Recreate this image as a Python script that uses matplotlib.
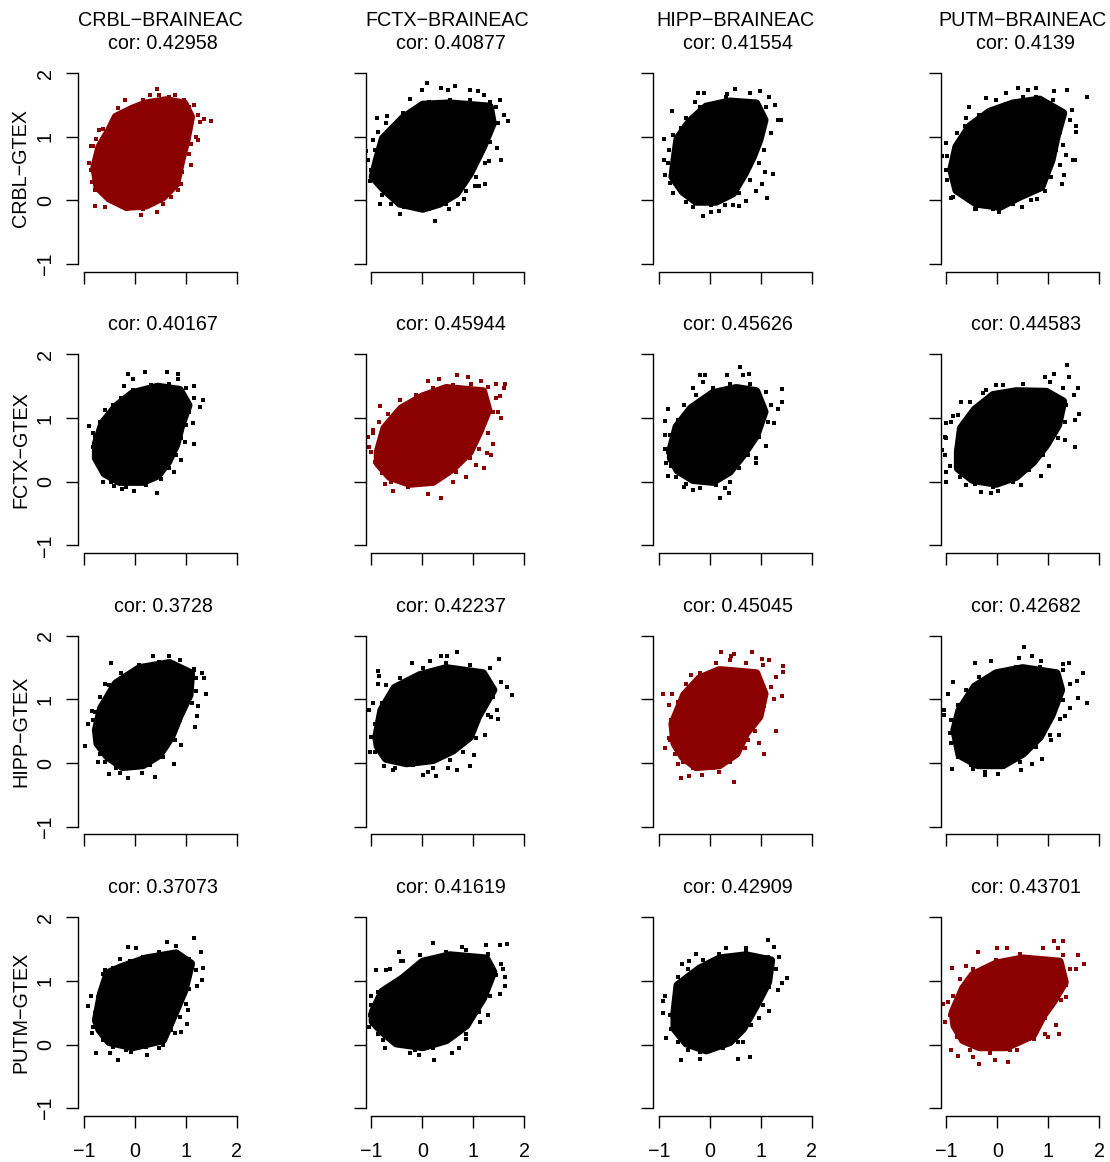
import matplotlib
matplotlib.use("Agg")
import matplotlib.pyplot as plt

plt.rcParams['font.family'] = ['Liberation Sans', 'DejaVu Sans']

# tissue names and correlations
tissues = ["CRBL", "FCTX", "HIPP", "PUTM"]
cors = [["0.42958", "0.40877", "0.41554", "0.4139"],
        ["0.40167", "0.45944", "0.45626", "0.44583"],
        ["0.3728", "0.42237", "0.45045", "0.42682"],
        ["0.37073", "0.41619", "0.42909", "0.43701"]]
ticks = [-1, 0, 1, 2]

# each panel: edge of the solid cloud, loose points around it, fringe points along the edge (all by eye)
edge_00 = [(-0.79,0.52),(-0.69,0.84),(-0.50,1.10),(-0.37,1.31),(-0.04,1.44),(0.22,1.52),(0.61,1.57),(0.97,1.52),(1.10,1.31),(1.01,0.94),(0.91,0.63),(0.81,0.26),(0.55,0.05),(0.22,-0.08),(-0.17,-0.10),(-0.50,0.03),(-0.73,0.21)]
out_00 = [(0.43,1.75),(-0.19,1.57),(-0.33,1.45),(-0.79,-0.09),(0.12,-0.23),(0.43,-0.19),(1.49,1.25),(1.35,1.27),(1.24,0.94),(1.10,0.56),(-0.89,0.59),(-0.85,0.86),(1.16,1.5),(0.78,1.65),(-0.59,-0.10),(0.92,0.44),(-0.71,1.10),(-0.63,1.12)]
fr_00 = [(-0.76,0.97),(-0.82,0.86),(-0.73,0.76),(-0.86,0.47),(-0.84,0.29),(-0.79,0.16),(-0.56,0.05),(-0.40,-0.03),(-0.15,-0.13),(0.16,-0.13),(0.35,-0.05),(0.55,-0.05),(0.71,0.05),(0.84,0.16),(0.91,0.26),(0.93,0.45),(0.97,0.68),(1.07,0.73),(1.10,0.89),(1.20,0.99),(1.27,1.23),(1.24,1.34),(1.07,1.47),(0.97,1.57),(0.68,1.62),(0.48,1.65),(0.29,1.65),(0.16,1.57),(-0.04,1.47),(-0.14,1.39),(-0.33,1.36),(-0.43,1.20)]
edge_01 = [(-0.89,0.63),(-0.77,0.97),(-0.38,1.29),(0.01,1.50),(0.54,1.52),(1.32,1.47),(1.38,1.21),(1.19,0.84),(0.93,0.42),(0.67,0.11),(0.34,-0.05),(0.01,-0.13),(-0.44,-0.05),(-0.77,0.19),(-0.97,0.37)]
out_01 = [(0.09,1.84),(-0.01,1.73),(0.37,1.76),(0.65,1.80),(0.50,1.74),(0.93,1.73),(1.09,1.71),(1.21,1.65),(1.52,1.57),(1.68,1.24),(1.60,1.34),(1.54,0.64),(1.46,0.82),(1.31,0.61),(1.23,0.26),(1.03,0.23),(1.11,0.23),(0.82,0.02),(0.25,-0.33),(-0.44,-0.22),(-0.82,-0.05),(-0.24,1.59),(-0.89,1.30),(-0.69,1.33),(-1.10,0.78),(-1.07,0.63),(0.52,-0.13)]
fr_01 = [(-0.97,0.95),(-0.92,0.79),(-1.0,0.48),(-1.03,0.30),(-0.80,0.08),(-0.61,-0.05),(-0.35,-0.10),(-0.02,-0.15),(0.14,-0.13),(0.47,-0.05),(0.70,-0.05),(0.86,0.14),(1.06,0.37),(1.22,0.58),(1.32,0.92),(1.48,1.21),(1.45,1.47),(1.32,1.55),(0.93,1.58),(0.54,1.58),(0.14,1.55),(-0.12,1.42),(-0.38,1.37),(-0.71,1.21),(-0.87,1.08)]
edge_02 = [(-0.69,0.63),(-0.63,0.97),(-0.40,1.23),(-0.07,1.47),(0.39,1.55),(0.91,1.52),(1.07,1.26),(0.97,0.95),(0.84,0.68),(0.68,0.42),(0.45,0.11),(0.12,-0.02),(-0.27,-0.02),(-0.53,0.14),(-0.73,0.37)]
out_02 = [(0.49,1.75),(0.99,1.71),(-0.23,1.68),(-0.12,1.68),(-0.74,1.41),(-0.29,1.55),(-0.90,0.97),(1.40,1.26),(1.28,1.50),(1.24,0.41),(1.12,0.03),(1.02,0.25),(0.91,0.14),(1.08,0.45),(-0.14,-0.25),(0.03,-0.19),(0.18,-0.16),(0.71,-0.01),(0.58,-0.09),(-0.88,0.40),(-0.89,0.63),(0.78,1.69),(0.33,1.67),(1.16,1.62)]
fr_02 = [(-0.73,1.02),(-0.80,0.79),(-0.82,0.58),(-0.79,0.27),(-0.73,0.11),(-0.46,-0.02),(-0.33,-0.11),(0.03,-0.07),(0.29,-0.07),(0.45,-0.07),(0.58,0.11),(0.78,0.32),(0.97,0.58),(1.07,0.79),(1.20,1.05),(1.33,1.26),(1.10,1.47),(0.78,1.55),(0.32,1.63),(0,1.52),(-0.20,1.47),(-0.46,1.29),(-0.56,1.13)]
edge_03 = [(-0.90,0.48),(-0.80,0.84),(-0.54,1.16),(-0.15,1.39),(0.31,1.52),(0.83,1.58),(1.29,1.37),(1.16,1.00),(1.06,0.63),(0.86,0.21),(0.44,0.06),(0.05,-0.10),(-0.41,-0.05),(-0.80,0.16)]
out_03 = [(0.41,1.77),(0.75,1.77),(0.60,1.73),(1.12,1.72),(1.37,1.73),(1.76,1.63),(-0.22,1.60),(-0.56,1.46),(-0.02,1.58),(0.18,1.68),(1.46,1.42),(1.54,1.16),(1.55,1.08),(1.52,0.63),(1.31,0.40),(1.27,0.25),(0.77,0.02),(0.49,-0.11),(0.03,-0.19),(-0.44,-0.14),(-0.90,0.03),(-1.01,0.90),(-1.09,0.69),(-0.62,1.29)]
fr_03 = [(-0.98,0.69),(-1.01,0.48),(-0.98,0.32),(-0.87,0.06),(-0.54,0),(-0.41,-0.13),(-0.08,-0.13),(0.31,-0.05),(0.67,0),(0.93,0.14),(1.06,0.37),(1.22,0.55),(1.16,0.79),(1.29,0.87),(1.35,0.71),(1.48,0.63),(1.22,1.08),(1.42,1.26),(1.29,1.39),(1.09,1.58),(0.76,1.63),(0.50,1.63),(0.18,1.52),(-0.08,1.42),(-0.35,1.34),(-0.64,1.16),(-0.80,1.05)]

edge_10 = [(-0.76,0.60),(-0.63,0.92),(-0.37,1.18),(-0.04,1.39),(0.45,1.49),(0.88,1.44),(1.05,1.20),(0.91,0.89),(0.81,0.58),(0.65,0.31),(0.45,0.10),(0.16,0),(-0.30,0),(-0.59,0.13),(-0.76,0.37)]
out_10 = [(0.20,1.72),(0.63,1.72),(-0.14,1.69),(-0.04,1.62),(0.84,1.69),(-0.22,1.50),(1.17,1.50),(1.33,1.28),(1.27,1.17),(1.14,0.92),(1.17,0.60),(0.98,0.63),(0.91,0.34),(0.76,0.15),(0.43,-0.18),(-0.02,-0.15),(-0.25,-0.12),(-0.40,-0.07),(-0.63,0),(-0.89,0.88),(-0.81,0.77),(-0.82,0.54),(-0.59,1.13),(0.84,1.62)]
fr_10 = list(zip([-0.69,-0.79,-0.79,-0.73,-0.63,-0.46,-0.17,0.22,0.52,0.68,0.81,0.91,1.01,1.07,1.17,1.01,0.68,0.32,-0.04,-0.27,-0.43,-0.53],
                 [0.94,0.71,0.47,0.26,0.13,0,-0.08,-0.05,0.05,0.21,0.42,0.68,0.89,1.10,1.31,1.47,1.54,1.52,1.44,1.31,1.20,1.07]))
edge_11 = [(-0.87,0.47),(-0.74,0.84),(-0.41,1.15),(0.01,1.34),(0.47,1.47),(1.19,1.42),(1.29,1.13),(1.12,0.79),(0.93,0.47),(0.60,0.21),(0.21,0),(-0.25,-0.03),(-0.64,0.08),(-0.87,0.29)]
out_11 = [(0.68,1.67),(0.90,1.65),(0.33,1.61),(0.11,1.59),(1.45,1.54),(1.63,1.53),(1.61,1.47),(1.53,1.34),(1.55,1.00),(1.39,0.60),(1.35,0.42),(1.26,0.45),(1.21,0.21),(1.06,0.27),(0.86,0.08),(0.60,0),(0.36,-0.25),(0.11,-0.20),(-0.58,-0.14),(-0.74,-0.03),(-0.82,1.19),(-1.06,0.71),(-1.05,0.54),(-0.97,0.81),(1.16,1.58),(1.49,1.09)]
fr_11 = list(zip([-0.97,-1.0,-0.93,-0.80,-0.61,-0.28,0.08,0.41,0.67,0.93,1.12,1.29,1.39,1.45,1.29,0.96,0.60,0.21,-0.12,-0.44,-0.67,-0.84],
                 [0.76,0.47,0.31,0.13,0,-0.08,-0.03,0.08,0.16,0.37,0.52,0.76,1.10,1.31,1.49,1.54,1.52,1.47,1.36,1.28,1.07,0.94]))
edge_12 = [(-0.76,0.52),(-0.65,0.86),(-0.37,1.15),(0.06,1.39),(0.52,1.47),(0.91,1.42),(1.07,1.10),(0.91,0.73),(0.65,0.42),(0.39,0.16),(0.06,0),(-0.33,0.03),(-0.63,0.18),(-0.76,0.37)]
out_12 = [(0.59,1.80),(-0.20,1.67),(-0.10,1.67),(0.33,1.67),(0.65,1.68),(0.76,1.69),(1.41,1.45),(1.41,1.26),(1.33,1.15),(1.25,0.92),(1.11,0.56),(0.90,0.29),(0.90,0.38),(0.37,-0.17),(0.20,-0.26),(0.29,-0.10),(-0.33,-0.13),(-0.50,-0.08),(-0.82,0.09),(-0.86,0.29),(-0.88,0.51),(-0.87,0.73),(-0.88,0.95),(-0.81,1.14),(-0.14,1.56),(-0.33,1.47)]
fr_12 = list(zip([-0.63,-0.79,-0.82,-0.76,-0.66,-0.46,-0.20,0.12,0.39,0.58,0.75,0.97,1.14,1.20,1.10,0.78,0.39,0.06,-0.27,-0.50],
                 [0.97,0.73,0.47,0.24,0.08,-0.03,-0.10,-0.05,0,0.21,0.42,0.71,0.94,1.20,1.41,1.54,1.54,1.47,1.36,1.20]))
edge_13 = [(-0.77,0.47),(-0.71,0.84),(-0.44,1.13),(-0.08,1.36),(0.37,1.42),(0.96,1.41),(1.29,1.26),(1.19,0.89),(0.96,0.58),(0.70,0.31),(0.37,0.08),(-0.02,-0.03),(-0.48,0.03),(-0.77,0.21)]
out_13 = [(1.37,1.84),(1.41,1.65),(1.11,1.69),(0.93,1.65),(1.59,1.47),(1.50,1.36),(1.60,1.07),(1.52,0.97),(1.52,0.54),(1.32,0.65),(1.01,0.24),(0.86,0.09),(0.47,-0.05),(0.01,-0.15),(-0.12,-0.18),(-0.31,-0.16),(-0.61,-0.05),(-1.0,-0.01),(-1.01,0.16),(-1.08,0.50),(-1.03,0.71),(-1.0,0.92),(-0.86,1.04),(-0.71,1.26),(-0.02,1.52),(-0.22,1.44)]
fr_13 = list(zip([-0.90,-1.0,-1.03,-0.93,-0.74,-0.44,-0.08,0.31,0.63,0.90,1.19,1.32,1.35,1.29,1.03,0.50,0.11,-0.28,-0.54,-0.77],
                 [0.94,0.68,0.42,0.24,0.08,-0.03,-0.08,0,0.18,0.42,0.68,0.94,1.20,1.47,1.57,1.54,1.52,1.39,1.26,1.05]))

edge_20 = [(-0.76,0.52),(-0.66,0.86),(-0.37,1.25),(0.09,1.49),(0.68,1.57),(1.10,1.41),(1.07,1.07),(0.88,0.75),(0.71,0.41),(0.48,0.13),(0.16,-0.03),(-0.24,-0.06),(-0.53,0.10),(-0.73,0.31)]
out_20 = [(0.35,1.68),(0.68,1.69),(0.88,1.62),(-0.46,1.58),(1.31,1.41),(1.35,1.33),(1.39,1.08),(1.20,1.14),(1.24,0.90),(1.12,0.94),(1.22,0.74),(1.18,0.56),(0.91,0.29),(0.76,-0.02),(0.39,-0.22),(0.14,-0.16),(-0.14,-0.24),(-0.30,-0.15),(-0.50,-0.17),(-0.73,0.02),(-0.97,0.27),(-0.92,0.61),(-0.84,0.82),(-0.58,1.25),(1.17,1.48)]
fr_20 = list(zip([-0.82,-0.79,-0.69,-0.59,-0.37,-0.04,0.29,0.55,0.78,0.88,1.01,1.20,1.17,0.88,0.48,0.09,-0.27,-0.50,-0.69,-0.79],
                 [0.68,0.41,0.15,0.02,-0.08,-0.08,-0.03,0.10,0.36,0.68,0.99,1.33,1.46,1.62,1.59,1.54,1.41,1.23,1.04,0.81]))
edge_21 = [(-0.90,0.41),(-0.80,0.83),(-0.54,1.18),(-0.05,1.38),(0.47,1.49),(1.19,1.41),(1.39,1.15),(1.09,0.73),(0.93,0.41),(0.60,0.20),(0.21,0.05),(-0.31,0),(-0.71,0.07),(-0.87,0.26)]
out_21 = [(0.69,1.75),(0.37,1.69),(0.48,1.69),(1.50,1.64),(0.16,1.60),(-0.20,1.57),(-0.87,1.44),(-0.84,1.37),(-0.87,1.25),(1.75,1.07),(1.66,1.20),(1.48,0.69),(1.35,0.72),(1.47,0.83),(1.22,0.44),(1.01,0.13),(0.93,-0.05),(0.69,-0.11),(0.50,-0.08),(0.26,-0.20),(0.01,-0.19),(0.11,-0.14),(-0.58,-0.11),(-0.76,-0.05),(-1.03,0.18),(-1.05,0.83),(-0.97,0.94)]
fr_21 = list(zip([-0.93,-1.0,-0.93,-0.74,-0.54,-0.18,0.21,0.54,0.80,1.06,1.29,1.39,1.55,1.32,0.93,0.47,0.01,-0.44,-0.71,-0.80],
                 [0.62,0.41,0.18,0.10,-0.08,-0.03,-0.08,0.05,0.18,0.39,0.75,1.04,1.28,1.49,1.54,1.57,1.49,1.33,1.23,0.94]))
edge_22 = [(-0.73,0.62),(-0.50,1.07),(-0.20,1.33),(0.19,1.46),(0.91,1.41),(1.07,1.09),(0.97,0.73),(0.71,0.47),(0.52,0.15),(0.19,-0.03),(-0.27,-0.06),(-0.53,0.10),(-0.69,0.31)]
out_22 = [(0.22,1.74),(0.82,1.74),(0.48,1.72),(0.41,1.69),(1.02,1.63),(1.16,1.62),(1.43,1.52),(1.43,1.43),(1.41,1.06),(1.29,0.51),(1.07,0.14),(0.96,0.31),(0.70,0.23),(0.48,-0.29),(0.18,-0.14),(-0.16,-0.18),(-0.40,-0.20),(-0.56,-0.24),(-0.63,-0.02),(-0.88,0.23),(-0.80,0.39),(-0.92,1.09),(-0.80,0.92),(-0.74,1.08),(-0.37,1.38),(0.88,0.51),(1.25,1.0)]
fr_22 = list(zip([-0.76,-0.79,-0.69,-0.53,-0.33,0.06,0.39,0.55,0.75,0.94,1.07,1.20,1.30,1.04,0.71,0.39,0.12,-0.20,-0.46,-0.63],
                 [0.68,0.36,0.15,0.02,-0.08,-0.08,0.02,0.15,0.36,0.68,0.89,1.20,1.36,1.54,1.57,1.62,1.57,1.41,1.25,0.96]))
edge_23 = [(-0.84,0.52),(-0.74,0.83),(-0.44,1.20),(-0.02,1.41),(0.50,1.49),(1.16,1.41),(1.25,1.15),(1.06,0.75),(0.83,0.41),(0.50,0.15),(0.11,-0.03),(-0.38,-0.03),(-0.74,0.13)]
out_23 = [(0.52,1.83),(0.69,1.69),(0.42,1.65),(0.86,1.60),(-0.12,1.60),(-0.43,1.58),(1.29,1.55),(1.41,1.57),(1.68,1.41),(1.57,1.29),(1.76,0.94),(1.59,1.03),(1.43,0.86),(1.32,0.74),(1.21,0.44),(1.06,0.36),(0.88,0.06),(0.69,-0.02),(0.47,-0.11),(0.01,-0.17),(-0.25,-0.19),(-0.48,-0.10),(-0.89,-0.10),(-0.97,1.08),(-1.05,0.84),(-1.04,0.76),(-0.86,1.28)]
fr_23 = list(zip([-0.90,-0.93,-0.90,-0.77,-0.51,-0.25,0.11,0.44,0.76,1.03,1.22,1.29,1.42,1.29,0.83,0.37,0.05,-0.35,-0.61,-0.77],
                 [0.68,0.47,0.31,0.10,-0.03,-0.14,-0.06,0.02,0.26,0.44,0.70,0.99,1.25,1.46,1.51,1.51,1.43,1.36,1.15,0.91]))

edge_30 = [(-0.76,0.38),(-0.66,0.80),(-0.53,1.12),(-0.24,1.22),(0.22,1.35),(0.81,1.43),(1.10,1.27),(0.97,0.85),(0.78,0.49),(0.55,0.07),(-0.04,-0.04),(-0.50,0.04),(-0.69,0.23)]
out_30 = [(1.16,1.67),(0.64,1.61),(0.81,1.55),(-0.14,1.54),(0.03,1.52),(1.30,1.45),(1.33,1.21),(1.31,1.02),(1.22,0.92),(1.04,0.54),(1.03,0.32),(0.91,0.19),(0.78,0.18),(0.47,-0.06),(0.24,-0.17),(-0.07,-0.12),(-0.33,-0.24),(-0.48,-0.14),(-0.76,-0.14),(-0.84,0.18),(-0.92,0.61),(-0.86,0.76),(-0.43,1.21),(-0.58,1.17),(-0.30,1.35)]
fr_30 = list(zip([-0.79,-0.82,-0.63,-0.43,-0.17,0.22,0.55,0.71,0.88,1.01,1.07,1.20,1.07,0.81,0.48,0.16,-0.10,-0.37,-0.63,-0.73],
                 [0.49,0.28,0.07,-0.04,-0.09,-0.04,-0.01,0.23,0.43,0.64,0.88,1.17,1.35,1.46,1.46,1.38,1.32,1.19,1.11,0.75]))
edge_31 = [(-0.97,0.51),(-0.78,0.83),(-0.38,1.04),(0.01,1.30),(0.54,1.40),(1.25,1.35),(1.39,1.14),(1.19,0.73),(0.86,0.30),(0.47,0.07),(0.01,-0.04),(-0.51,0.02),(-0.78,0.20),(-0.97,0.36)]
out_31 = [(1.66,1.58),(1.52,1.56),(0.21,1.59),(1.25,1.57),(-0.46,1.45),(-0.41,1.32),(1.58,1.18),(1.62,1.06),(1.62,0.92),(1.52,0.80),(1.29,0.47),(1.14,0.35),(0.85,0.08),(0.71,-0.06),(0.58,-0.14),(0.23,-0.24),(-0.07,-0.17),(-0.25,-0.14),(-0.74,-0.06),(-0.87,0.16),(-1.05,0.28),(-1.0,0.77),(-0.90,1.17),(-0.64,1.19),(0.77,1.54)]
fr_31 = list(zip([-1.0,-1.03,-0.90,-0.77,-0.51,-0.15,0.21,0.47,0.86,1.12,1.32,1.45,1.55,1.29,0.86,0.47,-0.05,-0.38,-0.71,-0.87],
                 [0.62,0.46,0.30,0.07,-0.01,-0.09,-0.06,0.09,0.17,0.51,0.77,1.09,1.27,1.43,1.48,1.46,1.40,1.32,1.17,0.83]))
edge_32 = [(-0.69,0.51),(-0.63,0.93),(-0.20,1.19),(0.19,1.35),(0.71,1.40),(1.20,1.32),(1.14,0.98),(0.91,0.62),(0.65,0.25),(0.39,0.04),(-0.07,-0.09),(-0.46,0.02),(-0.69,0.25)]
out_32 = [(1.14,1.65),(1.25,1.53),(1.35,1.38),(1.52,1.04),(1.41,0.96),(1.33,0.85),(1.17,0.52),(0.97,0.41),(0.78,-0.20),(0.55,-0.22),(0.65,0.04),(-0.20,-0.22),(-0.57,-0.25),(-0.86,0.11),(-0.91,0.49),(-0.91,0.68),(-0.87,0.77),(-0.55,1.27),(-0.28,1.43),(-0.40,1.32),(0.32,1.52),(0.71,1.52),(-0.20,-0.11)]
fr_32 = list(zip([-0.79,-0.76,-0.63,-0.43,-0.07,0.25,0.55,0.81,1.04,1.17,1.30,1.14,0.71,0.19,-0.14,-0.43,-0.63,-0.69],
                 [0.46,0.25,0.04,-0.09,-0.09,-0.06,0.04,0.30,0.62,0.91,1.19,1.38,1.46,1.43,1.33,1.19,1.06,0.77]))
edge_33 = [(-0.87,0.51),(-0.67,0.88),(-0.48,1.09),(-0.02,1.27),(0.50,1.35),(1.22,1.30),(1.32,0.98),(1.09,0.67),(0.90,0.46),(0.70,0.15),(0.18,-0.04),(-0.35,-0.04),(-0.67,0.07),(-0.84,0.30)]
out_33 = [(1.11,1.63),(1.29,1.63),(1.19,1.52),(-0.38,1.46),(0,1.51),(0.19,1.52),(1.58,1.40),(1.70,1.27),(1.54,1.19),(1.35,0.74),(1.21,0.16),(0.99,0.12),(0.94,0.17),(0.71,0.09),(0.39,-0.08),(0.21,-0.27),(-0.05,-0.24),(-0.35,-0.30),(-0.48,-0.20),(-0.77,-0.18),(-0.90,-0.08),(-0.80,0.12),(-1.07,0.64),(-1.03,0.36),(-0.89,1.21),(-0.61,1.24),(1.16,0.31)]
fr_33 = list(zip([-0.97,-0.93,-0.84,-0.71,-0.54,-0.15,0.24,0.63,0.93,1.25,1.35,1.42,1.29,0.90,0.44,-0.02,-0.48,-0.74,-0.87],
                 [0.67,0.46,0.30,0.07,-0.09,-0.14,-0.09,0.09,0.41,0.70,0.93,1.19,1.40,1.51,1.43,1.33,1.19,1.03,0.77]))

edges = [[edge_00, edge_01, edge_02, edge_03],
         [edge_10, edge_11, edge_12, edge_13],
         [edge_20, edge_21, edge_22, edge_23],
         [edge_30, edge_31, edge_32, edge_33]]
outs = [[out_00, out_01, out_02, out_03],
        [out_10, out_11, out_12, out_13],
        [out_20, out_21, out_22, out_23],
        [out_30, out_31, out_32, out_33]]
fringes = [[fr_00, fr_01, fr_02, fr_03],
           [fr_10, fr_11, fr_12, fr_13],
           [fr_20, fr_21, fr_22, fr_23],
           [fr_30, fr_31, fr_32, fr_33]]

W = 1110
H = 1162
fs = 14.2
fig = plt.figure(figsize=(W / 100, H / 100), dpi=100)

for r in range(4):
    for c in range(4):
        # plot region in pixels
        left = 78.2 + 287.5 * c
        top = 65.4 + 281.4 * r
        ax = fig.add_axes([left / W, 1 - (top + 206.2) / H, 169.8 / W, 206.2 / H])
        ax.set_xlim(-1.11, 2.22)
        ax.set_ylim(-1.12, 2.12)
        col = "#8B0000" if r == c else "black"

        ex = [p[0] for p in edges[r][c]]
        ey = [p[1] for p in edges[r][c]]
        pts = edges[r][c] + outs[r][c] + fringes[r][c]
        px = [p[0] for p in pts]
        py = [p[1] for p in pts]
        ax.fill(ex, ey, color=col, lw=6, joinstyle="round")
        ax.scatter(px, py, s=5, marker="s", color=col, linewidths=0)

        for s in ["top", "right"]:
            ax.spines[s].set_visible(False)
        ax.spines["left"].set_bounds(-1, 2)
        ax.spines["bottom"].set_bounds(-1, 2)
        ax.spines["left"].set_linewidth(1.0)
        ax.spines["bottom"].set_linewidth(1.0)
        ax.set_xticks(ticks)
        ax.set_yticks(ticks)
        ax.tick_params(length=8.8, width=1.0)
        ax.set_xticklabels([str(t).replace("-", "\u2212") if r == 3 else "" for t in ticks], fontsize=fs)
        ax.tick_params(axis="x", pad=10)
        ax.set_yticklabels([str(t).replace("-", "\u2212") if c == 0 else "" for t in ticks],
                           fontsize=fs, rotation=90, va="center")
        ax.tick_params(axis="y", pad=8)

        cx = (left + 84.9) / W
        fig.text(cx, 1 - (top - 22) / H, "cor: " + cors[r][c], ha="center", va="center", fontsize=fs)
        if r == 0:
            fig.text(cx - 3 / W, 1 - (top - 45) / H, tissues[c] + "\u2212BRAINEAC", ha="center", va="center", fontsize=fs)
        if c == 0:
            fig.text(21 / W, 1 - (top + 103.1) / H, tissues[r] + "\u2212GTEX", ha="center", va="center",
                     rotation=90, fontsize=fs)

fig.savefig("out.png", dpi=100)
